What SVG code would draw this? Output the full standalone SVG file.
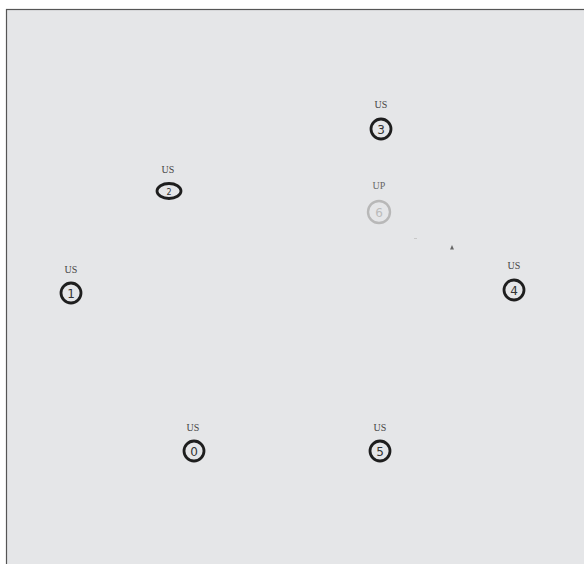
<svg xmlns="http://www.w3.org/2000/svg" width="584" height="564" viewBox="0 0 584 564">
<style>
.lbl{font-family:"Liberation Serif",serif;font-size:10px;fill:#444;text-anchor:middle}
.num{font-family:"DejaVu Sans",sans-serif;font-size:12px;fill:#333;text-anchor:middle}
.ring{fill:none;stroke:#1e1e1e;stroke-width:2.8}
.dim .ring{stroke:#b8b8b8;stroke-width:2.4}
.dim .lbl{fill:#666}
.dim .num{fill:#bbb}
</style>
<rect x="0" y="0" width="584" height="564" fill="#fff"/>
<rect x="6.5" y="9.5" width="590" height="570" fill="#e5e6e8" stroke="#555" stroke-width="1.2"/>
<g id="connectors">
<path d="M414 238.5h3" stroke="#c8c8c8" stroke-width="1"/>
<path d="M450 249.5 L452 245 L454 249.5Z" fill="#666"/>
</g>
<g id="node3"><text class="lbl" x="381" y="108">US</text><circle class="ring" cx="381" cy="129" r="10"/><text class="num" x="381" y="133.5">3</text></g>
<g id="node2"><text class="lbl" x="168" y="173">US</text><ellipse class="ring" cx="169" cy="191" rx="12" ry="7.5"/><text class="num" x="169" y="194.5" style="font-size:8px">2</text></g>
<g id="node6" class="dim"><text class="lbl" x="379" y="189">UP</text><circle class="ring" cx="379" cy="212" r="11"/><text class="num" x="379" y="216.5">6</text></g>
<g id="node1"><text class="lbl" x="71" y="273">US</text><circle class="ring" cx="71" cy="293" r="10"/><text class="num" x="71" y="297.5">1</text></g>
<g id="node4"><text class="lbl" x="514" y="269">US</text><circle class="ring" cx="514" cy="290" r="10"/><text class="num" x="514" y="294.5">4</text></g>
<g id="node0"><text class="lbl" x="193" y="431">US</text><circle class="ring" cx="194" cy="451" r="10"/><text class="num" x="194" y="455.5">0</text></g>
<g id="node5"><text class="lbl" x="380" y="431">US</text><circle class="ring" cx="380" cy="451" r="10"/><text class="num" x="380" y="455.5">5</text></g>
</svg>
